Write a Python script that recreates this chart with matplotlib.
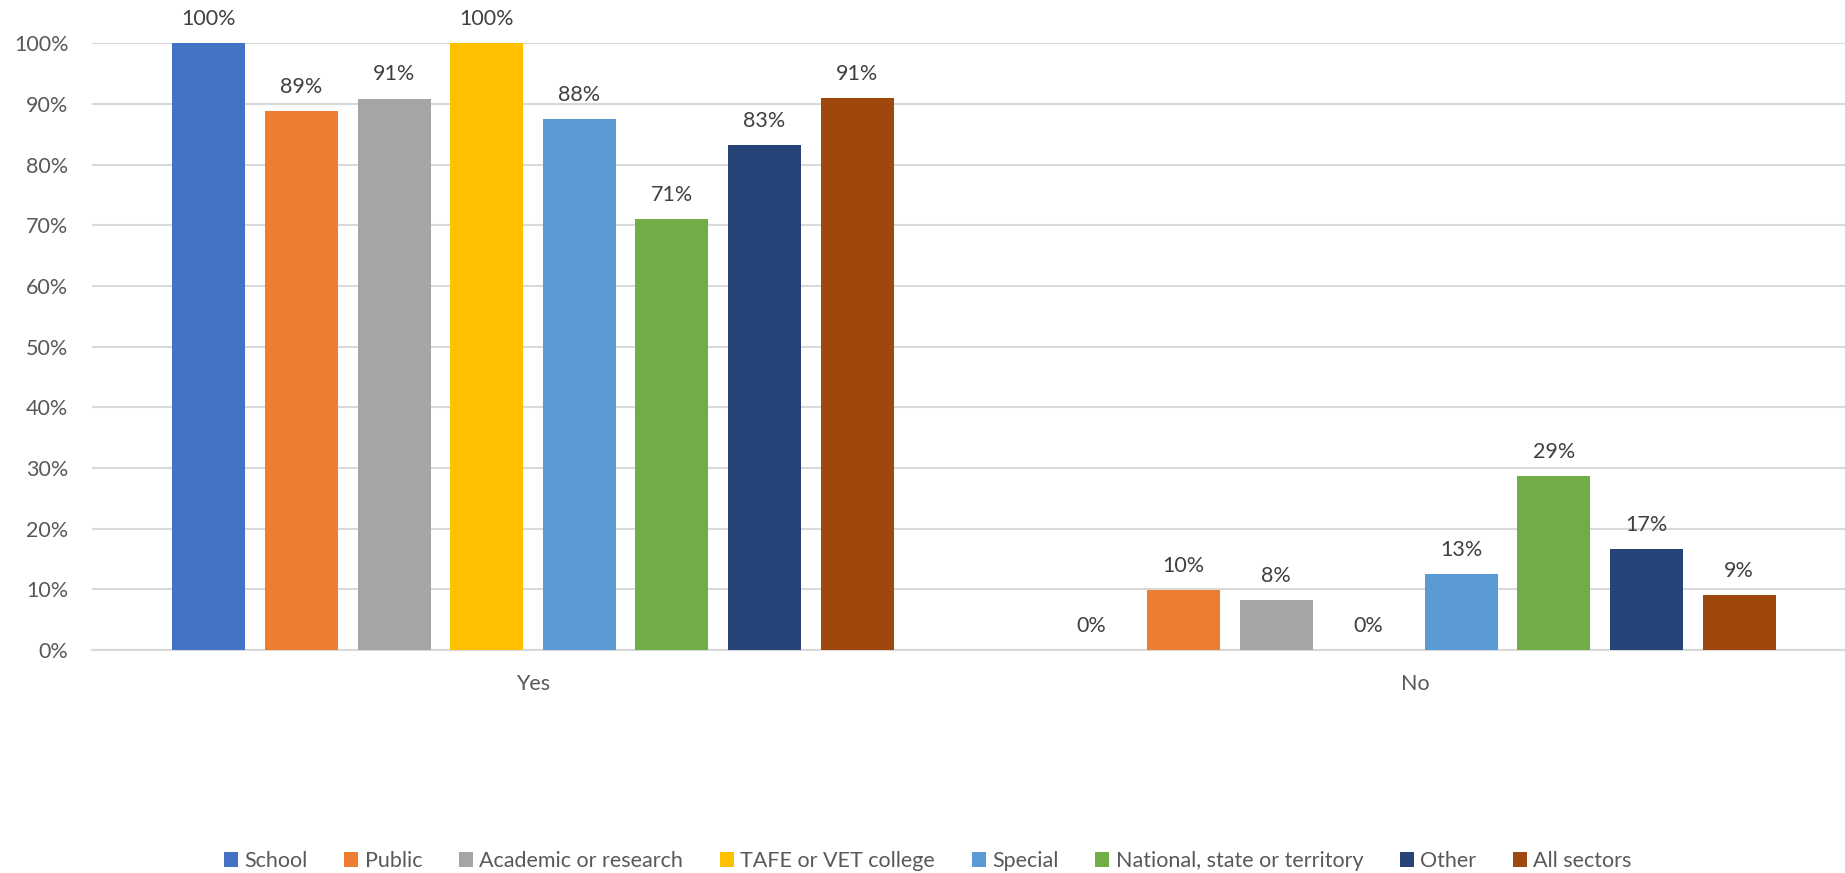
import matplotlib.pyplot as plt
import numpy as np

# Settings
categories = ['Yes', 'No']
series = ['School', 'Public', 'Academic or research', 'TAFE or VET college',
          'Special', 'National, state or territory', 'Other', 'All sectors']
yes_values = [100, 88.9, 90.9, 100, 87.5, 71.0, 83.3, 91.0]
no_values = [0, 9.9, 8.3, 0, 12.5, 28.6, 16.7, 9.0]
colors = ['#4472C4', '#ED7D31', '#A5A5A5', '#FFC000',
          '#5B9BD5', '#70AD47', '#264478', '#9E480E']
# Settings

plt.rcParams['font.family'] = ['Lato', 'DejaVu Sans']
fs = 15.5

fig = plt.figure(figsize=(18.45, 8.73), dpi=100)
ax = fig.add_axes([92 / 1845, 1 - 650 / 873, 1 - 92 / 1845, (650 - 43.3) / 873])

values = np.array([yes_values, no_values])  # categories x series
x = np.arange(len(categories))
catw = 882.0  # px per category
pitch = 92.6 / catw
width = 73 / catw
n = len(series)

for i, name in enumerate(series):
    pos = x + (i - (n - 1) / 2) * pitch
    vals = values[:, i] / 100
    ax.bar(pos, vals, width=width, color=colors[i], label=name, zorder=3)
    for px, v, raw in zip(pos, vals, values[:, i]):
        ax.annotate('%d%%' % int(np.floor(raw + 0.5)), (px, v), xytext=(0, 13),
                    textcoords='offset points', ha='center', va='baseline',
                    fontsize=fs, color='#404040')

ax.set_xlim((92 - 533) / catw, (1845 - 533) / catw)
ax.set_ylim(0, 1)
ax.set_yticks(np.arange(0, 1.01, 0.1))
ax.set_yticklabels(['%d%%' % v for v in range(0, 101, 10)])
ax.set_xticks(x)
ax.set_xticklabels(categories)
ax.yaxis.grid(True, color='#D9D9D9', linewidth=1.5, zorder=0)
ax.tick_params(axis='y', length=0, pad=17, labelsize=fs, labelcolor='#595959')
ax.tick_params(axis='x', length=0, pad=17, labelsize=fs, labelcolor='#595959')
for s in ['left', 'right', 'top']:
    ax.spines[s].set_visible(False)
ax.spines['bottom'].set_color('#D9D9D9')
ax.spines['bottom'].set_linewidth(1.5)

fig.legend(loc='center', bbox_to_anchor=(928 / 1845, 1 - 861 / 873), ncol=n, frameon=False,
           fontsize=fs, handlelength=0.65, handleheight=0.65, handletextpad=0.3,
           columnspacing=1.7, labelcolor='#595959')

fig.savefig('out.png', dpi=100)
